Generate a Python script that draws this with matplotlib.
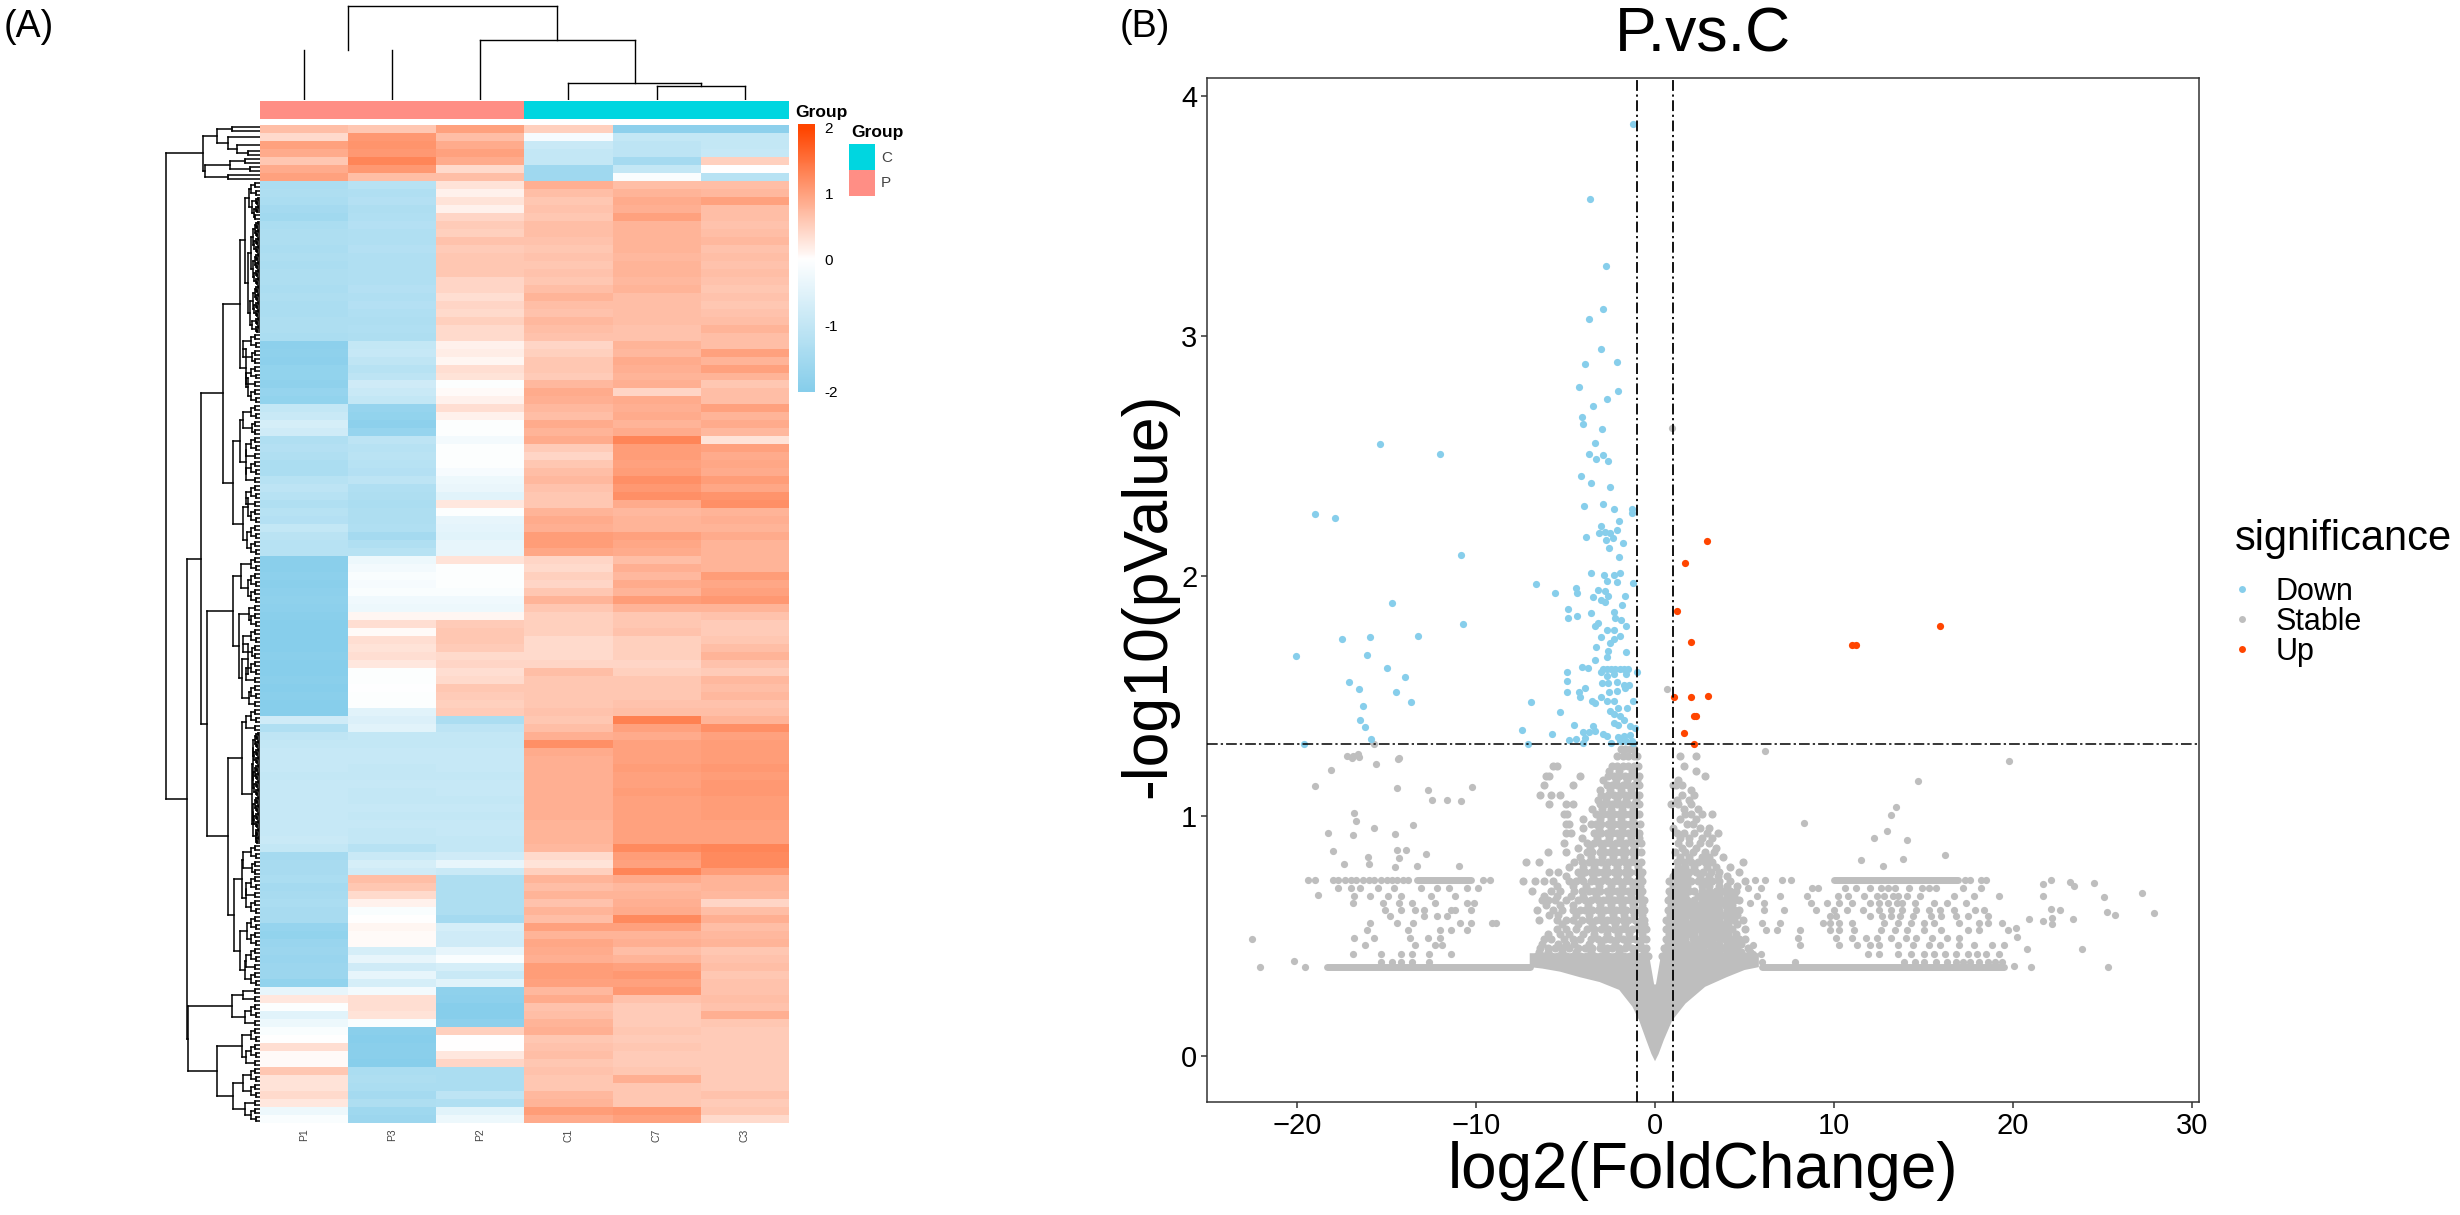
import numpy as np
import matplotlib
matplotlib.use('Agg')
import matplotlib.pyplot as plt
from matplotlib.colors import LinearSegmentedColormap
from matplotlib.lines import Line2D

plt.rcParams['font.family'] = ['Liberation Sans', 'DejaVu Sans']

W, H = 2460, 1215

# ---- panel A: heatmap, 125 bands read top to bottom
samples = ['P1', 'P3', 'P2', 'C1', 'C7', 'C3']
groups = ['P', 'P', 'P', 'C', 'C', 'C']

p1 = [.7,.4,1.0,.9,.6,.9,1.0,
      -1.4,-1.35,-1.4,-1.5,-1.55,-1.4,-1.35,-1.35,-1.4,-1.35,-1.4,-1.35,-1.35,-1.4,-1.35,-1.4,-1.4,-1.35,-1.35,-1.4,
      -1.9,-1.85,-1.9,-1.8,-1.8,-1.85,-1.75,-1.8,
      -1.0,-.9,-.7,-.8,
      -1.3,-1.25,-1.3,-1.4,-1.4,-1.2,-1.1,-1.2,-1.3,-1.2,-1.25,-1.0,-1.15,-1.2,-1.2,
      -1.95,-1.95,-1.9,-1.95,-1.9,-1.85,-1.9,-1.95,-2,-2,-2,-2,-1.95,-2,-2,-1.95,-2,-1.95,-2,-2,
      -.8,-1.3,-1.05,-1.0,-.95,-.95,-.95,-1.0,-.95,-.95,-.95,-.95,-.95,-.95,-.95,-.9,
      -1.0,-1.5,-1.45,-1.45,-1.4,-1.5,-1.45,-1.4,-1.45,-1.45,-1.75,-1.8,-1.7,-1.65,-1.7,-1.65,-1.65,-1.8,
      -.4,.25,-.05,-.5,-.3,-.1,0,.35,.05,.05,
      .6,.3,.3,.4,.25,-.3,-.1]
p3 = [.6,1.1,1.15,1.1,1.3,1.1,.7,
      -1.2,-1.3,-1.25,-1.35,-1.3,-1.25,-1.3,-1.3,-1.25,-1.3,-1.3,-1.3,-1.3,-1.25,-1.3,-1.25,-1.3,-1.35,-1.3,-1.35,
      -1.0,-.95,-1.05,-1.2,-1.1,-.8,-.9,-1.0,
      -1.75,-1.8,-1.9,-1.75,
      -1.1,-1.2,-1.15,-1.2,-1.25,-1.1,-1.3,-1.35,-1.4,-1.35,-1.35,-1.3,-1.5,-1.3,-1.2,
      -.3,-.2,-.1,-.15,-.1,-.25,-.3,.1,.35,.05,.35,.3,.35,.25,-.05,-.05,-.03,-.05,-.05,-.5,
      -.6,-.5,-1.0,-1.0,-.95,-.95,-1.0,-1.0,-.95,-1.0,-1.0,-.95,-1.0,-.95,-1.0,-1.0,
      -1.2,-.9,-.7,-.8,.7,.6,.4,.15,-.1,0,.1,.05,.05,-.7,-.4,-.8,-.4,-.7,
      -.2,.35,.35,.3,-.1,-1.95,-2,-1.95,-1.95,-2,
      -1.4,-1.35,-1.4,-1.5,-1.35,-1.6,-1.65]
p2 = [1.0,.7,.9,1.0,.9,.4,.7,
      .3,.15,.3,.15,.45,.55,.5,.65,.55,.6,.6,.6,.45,.45,.35,.45,.4,.5,.4,.4,
      .15,.2,.1,.35,.3,-.05,.05,.15,
      .35,.15,-.05,-.05,
      -.2,-.05,-.05,-.05,-.15,-.3,-.35,-.5,.25,-.05,-.4,-.45,-.5,-.4,-.4,
      .3,-.05,-.05,-.05,-.1,-.25,-.3,.1,.55,.6,.6,.55,.4,.45,.35,.4,.6,.55,.5,.55,
      -1.4,-1.1,-1.0,-1.0,-.95,-.95,-.95,-1.0,-.95,-.95,-1.0,-.95,-1.0,-.95,-.95,-1.0,
      -1.0,-.8,-.4,-.9,-1.35,-1.35,-1.35,-1.35,-1.35,-1.5,-.7,-.8,-.8,-.4,-.1,-.7,-.9,-.5,
      -1.85,-1.9,-2,-2,-1.9,.5,0,0,.25,.45,
      -1.4,-1.4,-1.4,-1.1,-1.3,-.5,-.3]
c1 = [.5,-.15,-.9,-1.0,-1.0,-1.6,-1.6,
      .85,.7,.6,.65,.6,.7,.7,.65,.6,.65,.6,.65,.6,.7,.8,.7,.65,.75,.7,.65,
      .45,.5,.6,.6,.55,.75,.9,.85,
      .75,.7,.9,.8,
      .9,.55,.45,.6,.7,.75,.65,.6,.6,.8,.9,.85,1.05,1.05,.95,
      .45,.4,.5,.45,.6,.8,.6,.5,.5,.5,.4,.4,.4,.45,.7,.6,.6,.6,.6,.65,
      .6,.7,.85,1.2,.9,.85,.85,.85,.85,.85,.85,.85,.85,.8,.8,.8,
      .75,.4,.3,.5,.8,.7,.8,.65,.8,.7,1.0,.8,.95,.9,.85,1.05,1.05,1.0,
      .75,.9,.65,.7,.8,.85,.6,.65,.7,.6,
      .65,.6,.6,.75,.8,1.05,.9]
c7 = [-1.9,-1.0,-1.1,-1.1,-1.5,-1.0,-.1,
      .7,.8,.9,.85,1.0,.8,.8,.8,.8,.75,.8,.8,.75,.8,.7,.7,.7,.7,.65,.65,
      .8,.75,.9,.85,.8,.85,.45,.9,
      .85,.9,.8,.9,
      1.3,1.05,1.05,1.0,1.05,1.2,1.1,1.2,.9,.75,.8,.8,1.0,.95,.9,
      .7,.85,.75,.9,.8,1.05,.8,.6,.6,.65,.5,.5,.5,.45,.5,.6,.6,.6,.65,.7,
      1.35,1.0,.9,1.0,1.0,1.0,1.05,1.0,1.0,1.05,1.0,1.0,1.0,1.0,1.0,1.0,
      1.25,1.05,1.0,1.3,.9,.75,.8,.85,.9,1.25,1.0,.8,.85,.7,.8,1.0,1.1,1.0,
      1.1,.65,.55,.55,.55,.6,.55,.6,.55,.55,
      .6,.85,.6,.6,.6,1.1,1.0]
c3 = [-1.9,-1.0,-1.0,-.95,.5,0,-1.2,
      .7,.75,1.0,.7,.7,.65,.7,.75,.65,.7,.65,.7,.65,.6,.65,.6,.65,.7,.8,.7,
      .7,1.0,.8,1.0,.8,.6,.7,.7,
      1.0,.8,.9,.75,
      .3,1.0,.9,.95,.9,1.05,.95,1.15,1.2,.8,.85,.8,.9,.8,.8,
      .8,.8,1.05,.95,1.0,1.1,.8,.65,.55,.55,.6,.7,.8,.65,.55,.75,.7,.75,.65,.7,
      .8,1.2,1.0,1.05,1.05,1.05,1.1,1.05,1.1,1.1,1.05,1.05,1.05,1.0,1.0,1.0,
      1.3,1.25,1.25,1.05,.8,.8,.75,.45,.7,.85,.7,.75,.8,.6,.65,.7,.6,.65,
      .65,.7,.65,.85,.6,.55,.55,.55,.55,.55,
      .55,.55,.55,.65,.55,.6,.4]

# small clades for the row tree: (height, upper, lower), a leaf is a number of bands
dense1 = (4, (2, .25, .25), (3, .25, .25))
dense4 = (7, (5, dense1, dense1), (6, dense1, dense1))
open1 = (5, .5, .5)
open2 = (9, open1, (4, .5, .5))
open3 = (14, open2, open1)
open4 = (17, open2, (8, open1, open1))

tree_a = (57, (43, (28, .5, .5), (32, 1, (23, 1, (12, .5, .5)))),
          (55, (30, (15, .5, .5), (10, .5, .5)), (32, .5, .5)))
tree_b = (20, (15, (11, open2, (8, dense1, (6, dense1, open1))),
               (12, (9, dense4, dense4), (10, dense4, (8, dense1, dense1)))),
          (14, open4, (12, open3, open2)))
tree_c = (27, (20, open4, (14, open3, open3)),
          (17, (12, open3, open2), (13, open2, open2)))
tree_d = (27, (19, open2, (12, open2, open2)),
          (21, (11, open1, open2), (18, (12, open4, open3), (11, open2, open1))))
tree_e = (32, (18, open3, (8, (7, dense4, dense4), (7, dense4, (4, dense1, dense1)))),
          (26, (18, open4, (14, open3, open2)), (20, (13, open2, open2), (15, open3, open2))))
tree_f = (28, (17, open1, open1), (15, open2, open1))
tree_g = (43, (18, open2, open3), (27, (17, open2, open2), (15, open1, open2)))
row_tree = (94, tree_a, (72.5, (59, (37, tree_b, tree_c), (53, tree_d, tree_e)), (71.5, tree_f, tree_g)))

col_tree = (94, (50, 1, 1), (60, 1, (17, 1, (14.4, 1, 1))))
col_no_bar = 50  # the P1/P3 bar is not visible in the picture

heat_ticks = [2, 1, 0, -1, -2]
group_names = ['C', 'P']

# ---- panel B: volcano
down_x = [-1.23,-3.64,-2.73,-2.92,-3.69,-3.01,-3.94,-2.12,-4.26,-2.07,-2.69,-3.46,-4.08,-4.01,-2.96,-3.33,-3.67,-2.92,-3.30,-2.62,
          -4.12,-3.60,-2.53,-2.89,-3.96,-2.28,-1.30,-1.30,-2.0,-3.03,-2.82,-3.12,-2.5,-2.14,-3.83,-2.37,-2.76,-1.8,-2.57,-2.0,
          -3.58,-2.85,-2.32,-1.98,-2.66,-2.14,-1.25,-3.17,-2.78,-2.6,-3.46,-1.66,-3.01,-2.78,-1.82,-2.32,-3.55,-2.21,-1.91,-3.21,
          -1.61,-3.33,-2.66,-2.28,-3.0,-2.32,-1.98,-2.5,-3.30,-2.62,-1.64,-2.66,-3.35,
          -2.9,-2.66,-2.44,-2.21,-1.98,-1.75,-1.53,-1.0,-4.1,-3.74,-4.92,-3.0,-2.66,-2.32,-1.64,-2.94,-2.6,-2.14,-1.75,-1.48,
          -2.55,-2.14,-1.68,-3.92,-4.94,-4.94,-4.26,-4.17,-3.0,-2.66,-2.32,-3.53,-3.35,-1.25,-2.5,-2.09,-1.59,-2.32,-1.98,-2.28,
          -1.75,-4.51,-3.49,-1.41,-1.14,-2.09,-4.03,-3.69,-3.35,-2.89,-2.66,-4.42,-4.83,-3.92,-2.09,-1.75,-1.41,-1.64,-1.30,-1.98,
          -4.03,-2.44,-1.23,-5.31,-6.93,-5.74,-7.45,-6.65,-5.6,-4.42,-4.37,-4.85,-4.87,-4.37,
          -15.36,-12.01,-18.98,-17.87,-10.82,-14.67,-10.75,-17.5,-15.91,-13.26,-20.03,-16.09,-14.97,-13.97,-17.09,-16.52,-14.49,
          -13.63,-16.32,-16.47,-16.2,-15.88,-19.6,-7.1]
down_y = [3.886,3.574,3.293,3.114,3.071,2.947,2.887,2.895,2.789,2.774,2.740,2.710,2.664,2.636,2.614,2.556,2.510,2.504,2.491,2.480,
          2.418,2.391,2.374,2.301,2.294,2.281,2.281,2.264,2.232,2.212,2.186,2.179,2.18,2.192,2.165,2.16,2.15,2.14,2.117,2.08,
          2.013,2.006,2.007,2.013,1.983,1.976,1.974,1.944,1.939,1.918,1.916,1.918,1.9,1.892,1.881,1.853,1.846,1.825,1.818,1.808,
          1.793,1.793,1.777,1.777,1.747,1.741,1.753,1.721,1.708,1.688,1.686,1.663,1.652,
          1.615,1.613,1.613,1.613,1.613,1.613,1.613,1.6,1.622,1.62,1.6,1.6,1.585,1.595,1.595,1.557,1.557,1.56,1.548,1.548,
          1.52,1.524,1.535,1.535,1.563,1.52,1.52,1.496,1.496,1.481,1.479,1.481,1.474,1.481,1.44,1.451,1.451,1.427,1.418,1.39,
          1.403,1.38,1.377,1.375,1.368,1.38,1.351,1.353,1.358,1.343,1.334,1.321,1.317,1.325,1.33,1.334,1.34,1.315,1.315,1.315,
          1.306,1.306,1.306,1.436,1.477,1.342,1.362,1.968,1.933,1.952,1.933,1.866,1.827,1.836,
          2.551,2.51,2.259,2.244,2.089,1.888,1.803,1.738,1.749,1.751,1.669,1.674,1.617,1.583,1.561,1.531,1.518,
          1.477,1.461,1.401,1.371,1.321,1.302,1.3]
up_x = [2.92,1.67,1.23,2.01,1.05,2.01,2.96,2.19,2.3,1.64,2.19,11.0,11.2,15.9]
up_y = [2.147,2.056,1.855,1.725,1.498,1.498,1.5,1.418,1.418,1.347,1.301,1.714,1.716,1.794]

# single grey points that stand apart
stable_x = [.96,.66,6.15,-15.7,-17.2,-16.9,-16.6,-14.3,-22.5,-22.05,-20.16,-19.53,-18.98,-18.12,-16.94,-16.53,-15.57,-14.34,-14.42,-12.71,
            -12.45,-11.64,-10.86,-10.23,-16.83,-16.68,-13.53,-15.68,-18.27,-16.9,-14.53,-17.99,-14.42,-13.94,-12.82,-16.01,-14.31,-17.35,-15.97,-14.53,
            -13.31,-10.93,-18.83,19.76,14.68,13.45,13.16,12.94,12.23,14.08,8.3,16.2,13.83,11.53,12.71,27.2,27.9,25.09,25.24,25.7,
            24.5,23.2,23.4,22.1,21.7,21.7,22.1,22.6,22.2,22.2,21.65,20.9,23.35,23.87,25.28,20.98,20.05,20.8,20.2,20.16]
stable_y = [2.62,1.533,1.273,1.3,1.25,1.25,1.26,1.245,.49,.372,.396,.372,1.126,1.192,1.243,1.247,1.219,1.239,1.119,1.111,
            1.067,1.067,1.065,1.121,1.014,.983,.963,.951,.932,.924,.928,.854,.858,.858,.843,.831,.825,.801,.803,.789,
            .794,.793,.671,1.231,1.149,1.04,1.004,.938,.911,.903,.974,.84,.822,.817,.792,.682,.599,.664,.601,.59,
            .722,.726,.71,.733,.72,.67,.615,.61,.578,.55,.563,.574,.574,.446,.371,.371,.375,.449,.497,.536]

# grey points of the two wings, one x list per -log10(p) level
wing_levels = [.735,.70,.67,.64,.61,.585,.555,.525,.495,.465,.425,.395]
wing_left = [[-19.4,-19.0,-18.0,-17.7,-17.3,-17.0,-16.7,-16.3,-16.0,-15.7,-15.3,-15.0,-14.7,-14.4,-14.1,-13.8,-9.2,-9.6],
             [-17.7,-17.0,-16.5,-15.5,-14.6,-13.1,-12.2,-11.5,-10.5,-9.9],
             [-16.8,-15.9,-14.9,-14.2,-12.5,-11.2],
             [-16.9,-15.2,-14.3,-13.6,-12.3,-10.1,-10.5],
             [-15.1,-14.2,-13.4,-12.9,-11.2,-11.4,-10.3],
             [-14.8,-12.9,-12.2,-11.6],
             [-15.9,-14.4,-13.5,-10.9,-10.3,-9.1,-8.9],
             [-16.1,-13.8,-12.0,-11.4,-10.5],
             [-16.8,-15.7,-13.7,-12.7,-12.0],
             [-16.2,-13.4,-12.3,-11.9],
             [-16.9,-15.3,-14.2,-13.6,-12.6,-11.4],
             [-15.3,-14.7,-14.2,-13.6,-12.6]]
wing_right = [[5.6,6.15,7.1,7.6,17.3,17.6,18.5,18.2],
              [5.2,5.9,8.75,9.1,10.6,11.2,12.0,12.6,13.0,13.4,14.2,14.9,15.3,15.7,17.2,18.2],
              [5.7,7.0,8.5,10.2,10.8,11.7,12.4,12.8,13.3,13.6,14.1,14.8,16.7,17.8,19.2],
              [5.3,6.1,8.7,9.6,10.3,11.0,12.0,12.5,13.0,13.5,13.8,14.5,15.6,16.3,17.4],
              [6.1,7.2,9.0,10.0,10.7,11.6,12.5,13.2,13.8,14.6,15.3,15.9,16.7,17.9,18.4],
              [9.8,10.1,12.0,12.7,13.2,13.7,14.4,15.4,16.0,16.8,17.5,18.6],
              [6.0,7.0,9.4,9.8,10.3,11.0,12.8,13.6,14.3,15.0,15.6,17.0,18.1,18.6,19.4],
              [6.2,6.8,8.1,9.8,10.3,11.1,12.6,13.4,14.1,15.0,16.0,17.5,18.1,19.7],
              [8.0,10.1,11.0,11.8,12.4,13.2,14.0,14.6,15.5,16.3,17.0],
              [5.5,8.1,10.3,11.3,12.0,12.5,13.6,14.4,15.3,15.9,17.0,17.8,18.8,19.5],
              [5.5,5.9,11.9,12.5,13.6,14.3,15.0,15.6,16.2,16.8,17.5,18.0,18.5,19.2],
              [5.3,6.0,7.8,13.9,14.5,15.0,15.7,16.3,16.8,17.2,17.6,18.1,18.6,19.0,19.4]]

# grey points of the centre, same layout
core_levels = [1.28,1.25,1.21,1.17,1.13,1.09,1.05,1.01,.97,.93,.89,.85,.81,.77,.73,.69,.65,.61,.57,.53,.49,.45,.42]
core_left = [[-1.9,-1.65,-1.4,-1.15],
             [-2.1,-1.8,-1.5,-1.2,-1.0],
             [-5.7,-5.5,-2.4,-2.1,-1.8,-1.5,-1.2,-.95],
             [-6.1,-5.9,-4.2,-2.6,-2.3,-2.0,-1.7,-1.4,-1.1,-.9],
             [-6.2,-4.6,-2.7,-2.4,-2.1,-1.8,-1.5,-1.2,-.9],
             [-6.4,-5.8,-5.3,-3.0,-2.6,-2.3,-2.0,-1.7,-1.4,-1.1,-.9],
             [-5.9,-5.0,-4.6,-3.1,-2.8,-2.4,-2.1,-1.8,-1.5,-1.2,-.9],
             [-5.1,-4.9,-3.3,-2.9,-2.6,-2.3,-2.0,-1.7,-1.4,-1.1,-.9],
             [-5.0,-4.8,-3.6,-3.3,-3.0,-2.6,-2.3,-2.0,-1.7,-1.4,-1.1,-.85],
             [-5.0,-4.7,-3.4,-3.0,-2.7,-2.4,-2.1,-1.8,-1.5,-1.2,-.9],
             [-5.1,-3.8,-3.4,-3.1,-2.8,-2.5,-2.2,-1.9,-1.6,-1.3,-1.0,-.8],
             [-6.0,-5.0,-3.8,-3.5,-3.1,-2.8,-2.5,-2.2,-1.9,-1.6,-1.3,-1.0,-.8],
             [-7.2,-6.5,-4.5,-4.1,-3.7,-3.3,-3.0,-2.6,-2.3,-2.0,-1.7,-1.4,-1.1,-.8],
             [-5.9,-5.4,-4.3,-3.9,-3.6,-3.2,-2.9,-2.6,-2.3,-2.0,-1.7,-1.4,-1.0,-.7],
             [-7.4,-6.7,-6.2,-5.7,-4.8,-4.4,-4.0,-3.6,-3.3,-3.0,-2.6,-2.3,-2.0,-1.7,-1.4,-1.0,-.7],
             [-6.9,-5.8,-5.3,-4.5,-4.1,-3.7,-3.4,-3.1,-2.7,-2.4,-2.1,-1.8,-1.5,-1.2,-.9,-.7],
             [-6.3,-6.0,-5.6,-5.0,-4.3,-3.9,-3.6,-3.2,-2.9,-2.6,-2.3,-2.0,-1.7,-1.4,-1.1,-.8,-.6],
             [-6.6,-5.7,-5.2,-4.6,-4.2,-3.9,-3.5,-3.2,-2.8,-2.5,-2.2,-1.9,-1.6,-1.3,-1.0,-.6],
             [-6.5,-5.5,-5.0,-4.6,-4.1,-3.7,-3.3,-3.0,-2.7,-2.4,-2.1,-1.8,-1.5,-1.1,-.8,-.6],
             [-5.5,-5.0,-4.4,-3.8,-3.4,-3.0,-2.6,-2.3,-1.9,-1.6,-1.3,-.9,-.5],
             [-6.2,-5.8,-5.1,-4.6,-4.2,-3.6,-3.2,-2.8,-2.5,-2.1,-1.8,-1.4,-1.1,-.7,-.5],
             [-6.4,-6.0,-5.6,-5.2,-4.8,-4.3,-3.9,-3.5,-3.1,-2.7,-2.4,-2.0,-1.7,-1.3,-1.0,-.7,-.5],
             [-6.6,-6.2,-5.8,-5.4,-5.0,-4.6,-4.2,-3.8,-3.4,-3.0,-2.6,-2.2,-1.8,-1.4,-1.0,-.7,-.4]]
core_right = [[],
              [1.4,2.3],
              [1.6],
              [2.8],
              [1.0,1.15,1.5],
              [1.5,2.2],
              [.9,1.3,2.0],
              [1.7,2.0,2.6,3.2],
              [1.8,2.1],
              [1.2,1.6,2.2,2.9,3.5],
              [1.3,1.9,2.5,3.0],
              [1.1,1.7,2.1,2.8,3.3],
              [1.2,1.6,2.0,2.4,2.8,3.2,4.9],
              [1.1,1.5,1.9,2.3,2.7,3.1,3.6,4.7],
              [.8,1.2,1.6,2.0,2.4,2.8,3.2,3.6,4.2,5.0],
              [.8,1.1,1.5,1.9,2.2,2.6,3.0,3.4,3.8,4.2,4.5],
              [.7,1.1,1.4,1.8,2.2,2.6,2.9,3.3,3.7,4.1,4.4,4.7],
              [.7,1.0,1.4,1.8,2.1,2.5,2.9,3.3,3.6,4.0,4.4,4.7],
              [.6,1.0,1.4,1.7,2.1,2.5,2.8,3.2,3.6,4.0,4.4,4.9],
              [.6,.9,1.3,1.7,2.0,2.4,2.8,3.2,3.5,3.9,4.3,5.0],
              [.6,1.0,1.3,1.7,2.1,2.4,2.8,3.2,3.6,3.9,4.3,4.7,5.0],
              [.5,.9,1.3,1.6,2.0,2.3,2.7,3.1,3.4,3.8,4.2,4.6,5.2],
              [.4,.8,1.2,1.6,1.9,2.3,2.7,3.0,3.4,3.8,4.2,4.6,5.0,5.5]]

# more of the centre, between the levels above
mid_levels = [1.19,1.15,1.11,1.07,1.03,.99,.95,.91,.87,.83,.79,.75,.71,.67,.63,.59,.55,.51,.47,.435]
mid_x = [[-2.55,-2.0,-1.3,2.3],
         [-2.9,-2.2,-1.55,-1.0,1.3],
         [-3.05,-2.5,-1.9,-1.35,2.0],
         [-3.2,-2.75,-2.15,-1.6,-1.05,1.2,1.9],
         [-3.5,-2.95,-2.45,-1.85,-1.25,1.6,2.4],
         [-4.0,-3.1,-2.45,-1.9,-1.25,1.4,2.3],
         [-4.0,-3.15,-2.45,-1.85,-1.25,1.0,2.5,3.0],
         [-4.1,-3.25,-2.55,-1.95,-1.35,-.9,1.4,1.9,2.6,3.2],
         [-4.3,-3.65,-2.95,-2.35,-1.75,-1.15,1.5,2.3,3.4],
         [-4.2,-3.6,-2.95,-2.35,-1.75,-1.15,1.4,1.9,2.6,3.0,3.8],
         [-4.8,-4.0,-3.4,-2.75,-2.15,-1.55,-.95,1.3,1.7,2.2,2.9,3.4,4.2],
         [-5.0,-4.15,-3.45,-2.8,-2.15,-1.55,-.85,1.0,1.4,1.8,2.5,3.0,3.5,4.0],
         [-5.5,-4.6,-3.85,-3.15,-2.45,-1.85,-1.25,-.85,1.0,1.4,1.8,2.6,3.0,3.6,4.0,4.6],
         [-6.2,-5.5,-4.7,-4.0,-3.3,-2.55,-1.95,-1.35,-.85,.9,1.3,1.7,2.4,2.8,3.2,3.6,4.0,4.4],
         [-6.1,-5.3,-4.6,-3.75,-3.05,-2.45,-1.85,-1.25,-.7,.9,1.25,1.6,2.0,2.4,2.8,3.1,3.5,3.9,4.3],
         [-5.9,-5.4,-4.4,-3.7,-3.0,-2.35,-1.75,-1.15,-.7,.85,1.2,1.55,1.9,2.3,2.7,3.05,3.45,3.8,4.2,4.6],
         [-5.2,-4.3,-3.5,-2.85,-2.25,-1.65,-.95,-.6,.8,1.2,1.5,1.9,2.3,2.6,3.0,3.4,3.7,4.1,4.6],
         [-6.0,-5.3,-4.8,-4.0,-3.4,-2.7,-2.05,-1.45,-.75,.8,1.15,1.5,1.85,2.2,2.6,3.0,3.35,3.7,4.1,4.5],
         [-6.3,-5.4,-5.0,-4.5,-3.7,-3.0,-2.25,-1.55,-.85,.7,1.1,1.45,1.8,2.15,2.5,2.9,3.25,3.6,4.0,4.4,4.8],
         [-6.5,-6.0,-5.2,-4.4,-3.6,-2.8,-2.0,-1.2,-.6,.6,1.0,1.4,1.75,2.1,2.5,2.85,3.2,3.6,4.0,4.4,4.8,5.3]]

# runs too dense to separate: ends of the flat rows and the outline of the funnel
flat_y = [.372, .372, .735, .735]
flat_from = [-18.3, 6.0, -13.3, 10.0]
flat_to = [-7.0, 19.5, -10.3, 16.9]
funnel_x = [-7.0,-6.3,-5.3,-4.2,-3.1,-2.0,-1.26,-.89,-.5,-.2,0,.2,.5,.96,1.7,2.8,4.0,5.0,5.8,5.8,.35,.05,-.05,-.35,-7.0]
funnel_y = [.372,.366,.353,.33,.31,.277,.207,.15,.07,.01,-.02,.01,.07,.15,.22,.29,.33,.36,.372,.43,.43,.3,.3,.43,.43]

fc_cut = [-1, 1]
p_cut = [1.3]
sig_labels = ['Down', 'Stable', 'Up']
sig_colors = ['#87CEEB', '#BEBEBE', '#FF4500']
x_ticks = [-20, -10, 0, 10, 20, 30]
y_ticks = [0, 1, 2, 3, 4]


def px_axes(fig, left, top, right, bottom):
    return fig.add_axes([left / W, 1 - bottom / H, (right - left) / W, (bottom - top) / H])


def draw_tree(ax, node, start, horizontal, skip=None):
    # returns (position of the node, height of the node, leaves used)
    if not isinstance(node, tuple):
        return start + node / 2, 0, node
    height, first, second = node
    p1_, h1, n1 = draw_tree(ax, first, start, horizontal, skip)
    p2_, h2, n2 = draw_tree(ax, second, start + n1, horizontal, skip)
    if horizontal:
        ax.plot([h1, height], [p1_, p1_], color='black', lw=1.1, solid_capstyle='projecting')
        ax.plot([h2, height], [p2_, p2_], color='black', lw=1.1, solid_capstyle='projecting')
        ax.plot([height, height], [p1_, p2_], color='black', lw=1.1, solid_capstyle='projecting')
    else:
        ax.plot([p1_, p1_], [h1, height], color='black', lw=1.0)
        ax.plot([p2_, p2_], [h2, height], color='black', lw=1.0)
        if height != skip:
            ax.plot([p1_, p2_], [height, height], color='black', lw=1.0)
    return (p1_ + p2_) / 2, height, n1 + n2


fig = plt.figure(figsize=(W / 100, H / 100), dpi=100)
fig.text(4 / W, 1 - 27 / H, '(A)', fontsize=27, va='center')
fig.text(1120 / W, 1 - 27 / H, '(B)', fontsize=27, va='center')

cmap = LinearSegmentedColormap.from_list('heat', ['#87CEEB', 'white', '#FF4500'])
group_color = {'P': '#FF8E85', 'C': '#00D6E0'}

# heatmap
ax = px_axes(fig, 259.5, 125, 789, 1123)
data = np.column_stack([p1, p3, p2, c1, c7, c3])
ax.pcolormesh(data, cmap=cmap, vmin=-2, vmax=2)
ax.invert_yaxis()
ax.set_xticks(np.arange(6) + .5)
ax.set_xticklabels(samples, rotation=90, fontsize=7.5, color='#444444')
ax.set_yticks([])
ax.tick_params(axis='x', length=0, pad=4)
for s in ax.spines.values():
    s.set_visible(False)

# annotation bar
ax = px_axes(fig, 259.5, 101, 789, 119)
ax.bar(np.arange(6), 1, width=1, color=[group_color[g] for g in groups])
ax.set_xlim(-.5, 5.5)
ax.set_ylim(0, 1)
ax.axis('off')

# dendrograms
ax = px_axes(fig, 100, 125, 259.5, 1123)
draw_tree(ax, row_tree, 0, True)
ax.set_xlim(159.5, 0)
ax.set_ylim(125, 0)
ax.axis('off')

ax = px_axes(fig, 259.5, 0, 789, 100)
draw_tree(ax, col_tree, 0, False, col_no_bar)
ax.set_xlim(0, 6)
ax.set_ylim(0, 100)
ax.axis('off')

# colour bar
ax = px_axes(fig, 798, 124, 815, 392)
ax.imshow(np.linspace(2.06, -2.015, 256).reshape(-1, 1), cmap=cmap, vmin=-2, vmax=2, aspect='auto',
          extent=[0, 1, -2.015, 2.06])
ax.set_xticks([])
ax.yaxis.tick_right()
ax.set_yticks(heat_ticks)
ax.set_yticklabels(['2', '1', '0', '-1', '-2'], fontsize=11)
ax.tick_params(axis='y', length=0, pad=7)
for s in ax.spines.values():
    s.set_visible(False)
fig.text(795 / W, 1 - 112 / H, 'Group', fontsize=12.5, fontweight='bold', va='center')
fig.text(851 / W, 1 - 133 / H, 'Group', fontsize=12.5, fontweight='bold', va='center')

# group key
ax = px_axes(fig, 849, 144, 875, 196)
ax.bar([0, 0], [1, 1], bottom=[0, 1], width=1, color=[group_color[g] for g in group_names])
ax.set_xlim(-.5, .5)
ax.set_ylim(2, 0)
ax.axis('off')
for i, g in enumerate(group_names):
    fig.text(881 / W, 1 - (158 + 25 * i) / H, g, fontsize=11, color='#444444', va='center')

# volcano
ax = px_axes(fig, 1207, 78, 2199, 1102)
ax.fill(funnel_x, funnel_y, color=sig_colors[1], lw=0, zorder=2)
for y0, a, b in zip(flat_y, flat_from, flat_to):
    ax.plot([a, b], [y0, y0], color=sig_colors[1], lw=5, solid_capstyle='round', zorder=2)
for level, row_l, row_r in zip(wing_levels, wing_left, wing_right):
    xs = row_l + row_r
    ax.scatter(xs, [level] * len(xs), s=27, color=sig_colors[1], lw=0, zorder=2)
for level, row_l, row_r in zip(core_levels, core_left, core_right):
    xs = row_l + row_r
    ax.scatter(xs, [level] * len(xs), s=34, color=sig_colors[1], lw=0, zorder=2)
for level, row in zip(mid_levels, mid_x):
    ax.scatter(row, [level] * len(row), s=34, color=sig_colors[1], lw=0, zorder=2)
ax.scatter(stable_x, stable_y, s=27, color=sig_colors[1], lw=0, zorder=2)
ax.scatter(down_x, down_y, s=27, color=sig_colors[0], lw=0, zorder=3)
ax.scatter(up_x, up_y, s=27, color=sig_colors[2], lw=0, zorder=3)
for v in fc_cut:
    ax.axvline(v, color='black', lw=1.3, ls=(0, (6, 2, 1.2, 2)), zorder=4)
for v in p_cut:
    ax.axhline(v, color='black', lw=1.1, ls=(0, (7, 2, 1.5, 2)), zorder=4)
ax.set_xlim(-25.03, 30.39)
ax.set_ylim(-.19, 4.077)
ax.set_xticks(x_ticks)
ax.set_yticks(y_ticks)
ax.tick_params(labelsize=21, length=4, width=1.1, color='#333333', pad=3)
for s in ax.spines.values():
    s.set_color('#333333')
    s.set_linewidth(1.1)
ax.set_title('P.vs.C', fontsize=45, pad=19)
ax.set_xlabel('log2(FoldChange)', fontsize=46, labelpad=1)
ax.set_ylabel('-log10(pValue)', fontsize=45, labelpad=2, y=.495)

fig.text(2235 / W, 1 - 550 / H, 'significance', fontsize=30, va='baseline')
handles = [Line2D([], [], ls='', marker='o', ms=5, mew=0, color=c) for c in sig_colors]
fig.legend(handles, sig_labels, loc='upper left', bbox_to_anchor=(2233 / W, 1 - 577 / H),
           frameon=False, fontsize=22, labelspacing=0, handlelength=.6, handletextpad=.79,
           borderpad=0, borderaxespad=0)

fig.savefig('out.png', dpi=100)
